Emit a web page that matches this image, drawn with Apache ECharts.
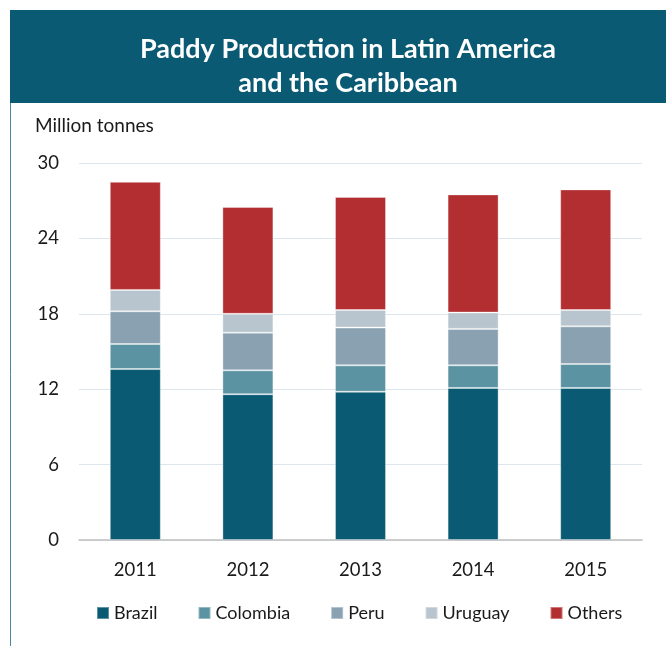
<!DOCTYPE html>
<html>
<head>
<meta charset="utf-8">
<title>Paddy Production in Latin America and the Caribbean</title>
<script src="https://cdn.jsdelivr.net/npm/echarts@6/dist/echarts.min.js"></script>
<style>
  html, body { margin: 0; padding: 0; background: #ffffff; }
  #chart { width: 666px; height: 646px; }
</style>
</head>
<body>
<div id="chart"></div>
<script>
// Paddy production by country, million tonnes
const years = ['2011', '2012', '2013', '2014', '2015'];
const brazil   = [13.6, 11.6, 11.8, 12.1, 12.1];
const colombia = [2.0, 1.9, 2.1, 1.8, 1.9];
const peru     = [2.6, 3.0, 3.0, 2.9, 3.0];
const uruguay  = [1.7, 1.5, 1.4, 1.3, 1.3];
const others   = [8.6, 8.5, 9.0, 9.4, 9.6];
const yTicks = [0, 6, 12, 18, 24, 30];

const seriesDefs = [
  { name: 'Brazil',   data: brazil,   color: '#0a5a73' },
  { name: 'Colombia', data: colombia, color: '#5b93a2' },
  { name: 'Peru',     data: peru,     color: '#8aa1b1' },
  { name: 'Uruguay',  data: uruguay,  color: '#b8c5ce' },
  { name: 'Others',   data: others,   color: '#b22e30' }
];

const FONT = 'Lato, "Open Sans", sans-serif';
const chart = echarts.init(document.getElementById('chart'), null, { renderer: 'canvas' });

chart.setOption({
  animation: false,
  backgroundColor: '#ffffff',
  title: {
    text: 'Paddy Production in Latin America\nand the Caribbean',
    left: 343,
    top: 27,
    textAlign: 'center',
    textStyle: {
      color: '#ffffff',
      fontFamily: FONT,
      fontWeight: 'bold',
      fontSize: 27,
      lineHeight: 34
    }
  },
  graphic: [
    {
      type: 'rect',
      z: -1,
      shape: { x: 10, y: 10, width: 656, height: 93 },
      style: { fill: '#0a5a73' }
    },
    {
      type: 'line',
      z: -1,
      shape: { x1: 10.5, y1: 103, x2: 10.5, y2: 646 },
      style: { stroke: '#4a8799', lineWidth: 1 }
    },
    {
      type: 'text',
      left: 35,
      top: 116,
      style: {
        text: 'Million tonnes',
        fill: '#1a1a1a',
        font: '19px ' + FONT
      }
    }
  ],
  legend: {
    left: 91,
    top: 599,
    itemWidth: 12,
    itemHeight: 12,
    itemGap: 40,
    icon: 'rect',
    textStyle: { color: '#1a1a1a', fontFamily: FONT, fontSize: 18 },
    data: seriesDefs.map(s => s.name)
  },
  grid: { left: 79, right: 24, top: 163, bottom: 106 },
  xAxis: {
    type: 'category',
    data: years,
    axisTick: { show: false },
    axisLine: { lineStyle: { color: '#bfbfbf', width: 1.5 } },
    axisLabel: { color: '#1a1a1a', fontFamily: FONT, fontSize: 18.5, margin: 21 }
  },
  yAxis: {
    type: 'value',
    min: yTicks[0],
    max: yTicks[yTicks.length - 1],
    interval: yTicks[1] - yTicks[0],
    axisLine: { show: false },
    axisTick: { show: false },
    splitLine: { lineStyle: { color: '#dde6ee', width: 1.2 } },
    axisLabel: { color: '#1a1a1a', fontFamily: FONT, fontSize: 18.5, margin: 20 }
  },
  series: seriesDefs.map(s => ({
    name: s.name,
    type: 'bar',
    stack: 'total',
    barWidth: 51,
    data: s.data,
    itemStyle: {
      color: s.color,
      borderColor: 'rgba(255,255,255,0.35)',
      borderWidth: 1
    }
  }))
});
</script>
</body>
</html>
